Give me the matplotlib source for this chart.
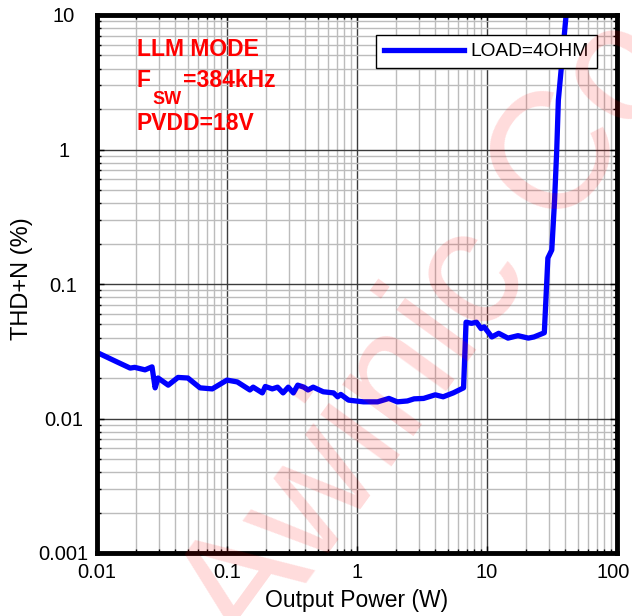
import matplotlib.pyplot as plt
import matplotlib.transforms as mtransforms
from matplotlib.ticker import LogLocator, FuncFormatter, NullFormatter

plt.rcParams['font.family'] = ['Liberation Sans', 'DejaVu Sans']

# THD+N vs output power
power = [0.0102, 0.0143, 0.018, 0.0195, 0.0234, 0.0265, 0.028, 0.0295, 0.0353, 0.042,
         0.050, 0.062, 0.077, 0.1, 0.12, 0.15, 0.159, 0.187, 0.197, 0.223,
         0.245, 0.27, 0.296, 0.324, 0.35, 0.39, 0.42, 0.46, 0.55, 0.66,
         0.71, 0.75, 0.86, 1.12, 1.44, 1.76, 2.04, 2.44, 2.75, 3.25,
         4.0, 4.6, 5.5, 6.6, 6.9, 7.6, 8.3, 9.0, 9.5, 10.9,
         12.3, 14.5, 17.3, 20.8, 23, 27.6, 29.4, 31.5, 33.1, 34.4,
         35.4, 40.6]
thdn = [0.0307, 0.0263, 0.0237, 0.0240, 0.023, 0.0242, 0.0169, 0.020, 0.0177, 0.0202,
        0.020, 0.0169, 0.0166, 0.0193, 0.0187, 0.0163, 0.0171, 0.0155, 0.0173, 0.0166,
        0.0171, 0.0155, 0.0171, 0.0155, 0.0177, 0.0171, 0.0163, 0.0171, 0.0158, 0.0155,
        0.0145, 0.0151, 0.0137, 0.0133, 0.0133, 0.0141, 0.0133, 0.0135, 0.0140, 0.0141,
        0.0150, 0.0145, 0.0155, 0.0169, 0.052, 0.051, 0.052, 0.0466, 0.048, 0.0404,
        0.043, 0.0396, 0.0413, 0.0396, 0.0404, 0.0434, 0.156, 0.179, 0.42, 1.0,
        2.33, 10.0]
series_label = 'LOAD=4OHM'
notes = ['LLM MODE', 'PVDD=18V']

W, H = 632, 616
fig = plt.figure(figsize=(W / 100, H / 100), dpi=100)
ax = fig.add_axes([97 / W, 1 - 553 / H, 520 / W, 538 / H])

ax.plot(power, thdn, color='#0000ff', lw=3.8, label=series_label, zorder=3,
        solid_joinstyle='round')

ax.set_xscale('log')
ax.set_yscale('log')
ax.set_xlim(0.01, 100)
ax.set_ylim(0.001, 10)

ax.xaxis.set_major_locator(LogLocator(base=10))
ax.yaxis.set_major_locator(LogLocator(base=10))
ax.xaxis.set_minor_locator(LogLocator(base=10, subs=range(2, 10)))
ax.yaxis.set_minor_locator(LogLocator(base=10, subs=range(2, 10)))
fmt = FuncFormatter(lambda v, p: '%g' % v)
ax.xaxis.set_major_formatter(fmt)
ax.yaxis.set_major_formatter(fmt)
ax.xaxis.set_minor_formatter(NullFormatter())
ax.yaxis.set_minor_formatter(NullFormatter())

ax.grid(which='major', color='#3c3c3c', lw=1.0, zorder=1)
ax.grid(which='minor', color='#bcbcbc', lw=1.0, zorder=1)
ax.set_axisbelow(True)

ax.tick_params(which='both', direction='in', top=True, right=True,
               labelsize=14.5, color='black')
ax.tick_params(which='major', length=5, width=1)
ax.tick_params(which='minor', length=3, width=1)
ax.tick_params(axis='x', pad=7)
ax.tick_params(axis='y', pad=24)
for lbl in ax.get_yticklabels():
    lbl.set_horizontalalignment('center')
for s in ax.spines.values():
    s.set_linewidth(3.5)
    s.set_zorder(4)

ax.set_xlabel('Output Power (W)', fontsize=16.5, labelpad=5)
ax.set_ylabel('THD+N (%)', fontsize=17)
ax.yaxis.set_label_coords(-64 / 520, 0.51)

leg = ax.legend(loc='upper right', fontsize=13.8, handlelength=4.2,
                handletextpad=0.35, fancybox=False, edgecolor='black',
                framealpha=1, borderaxespad=1.05, borderpad=0.4)
leg.get_frame().set_linewidth(1)

# red condition notes
red = '#ff0000'
fig.text(137 / W, 1 - 50 / H, notes[0], color=red, fontsize=16.5,
         fontweight='bold', va='center')
t_f = fig.text(137 / W, 1 - 87 / H, 'F', color=red, fontsize=16.5,
               fontweight='bold', va='baseline')
t_sw = ax.annotate('SW', xy=(1, 0), xycoords=t_f, xytext=(1, 1),
                   textcoords='offset points', color=red, fontsize=13,
                   fontweight='bold', va='top', ha='left')
ax.annotate('=384kHz', xy=(1, 1 - 87 / H), xycoords=(t_sw, 'figure fraction'),
            xytext=(1, 0), textcoords='offset points', color=red,
            fontsize=16.5, fontweight='bold', va='baseline', ha='left')
fig.text(137 / W, 1 - 124 / H, notes[1], color=red, fontsize=16.5,
         fontweight='bold', va='center')

# faint watermark over the plot
fig.text(0.685, 0.455, 'Awinic Co', fontsize=120, color='#ff0000', alpha=0.14,
         rotation=54, ha='center', va='center', zorder=5)

# keep the last x tick label inside the canvas
fig.canvas.draw()
for lbl in ax.get_xticklabels():
    if lbl.get_text() == '100':
        lbl.set_transform(lbl.get_transform() +
                          mtransforms.ScaledTranslation(-3 / 72, 0, fig.dpi_scale_trans))

fig.savefig('out.png', dpi=100)
